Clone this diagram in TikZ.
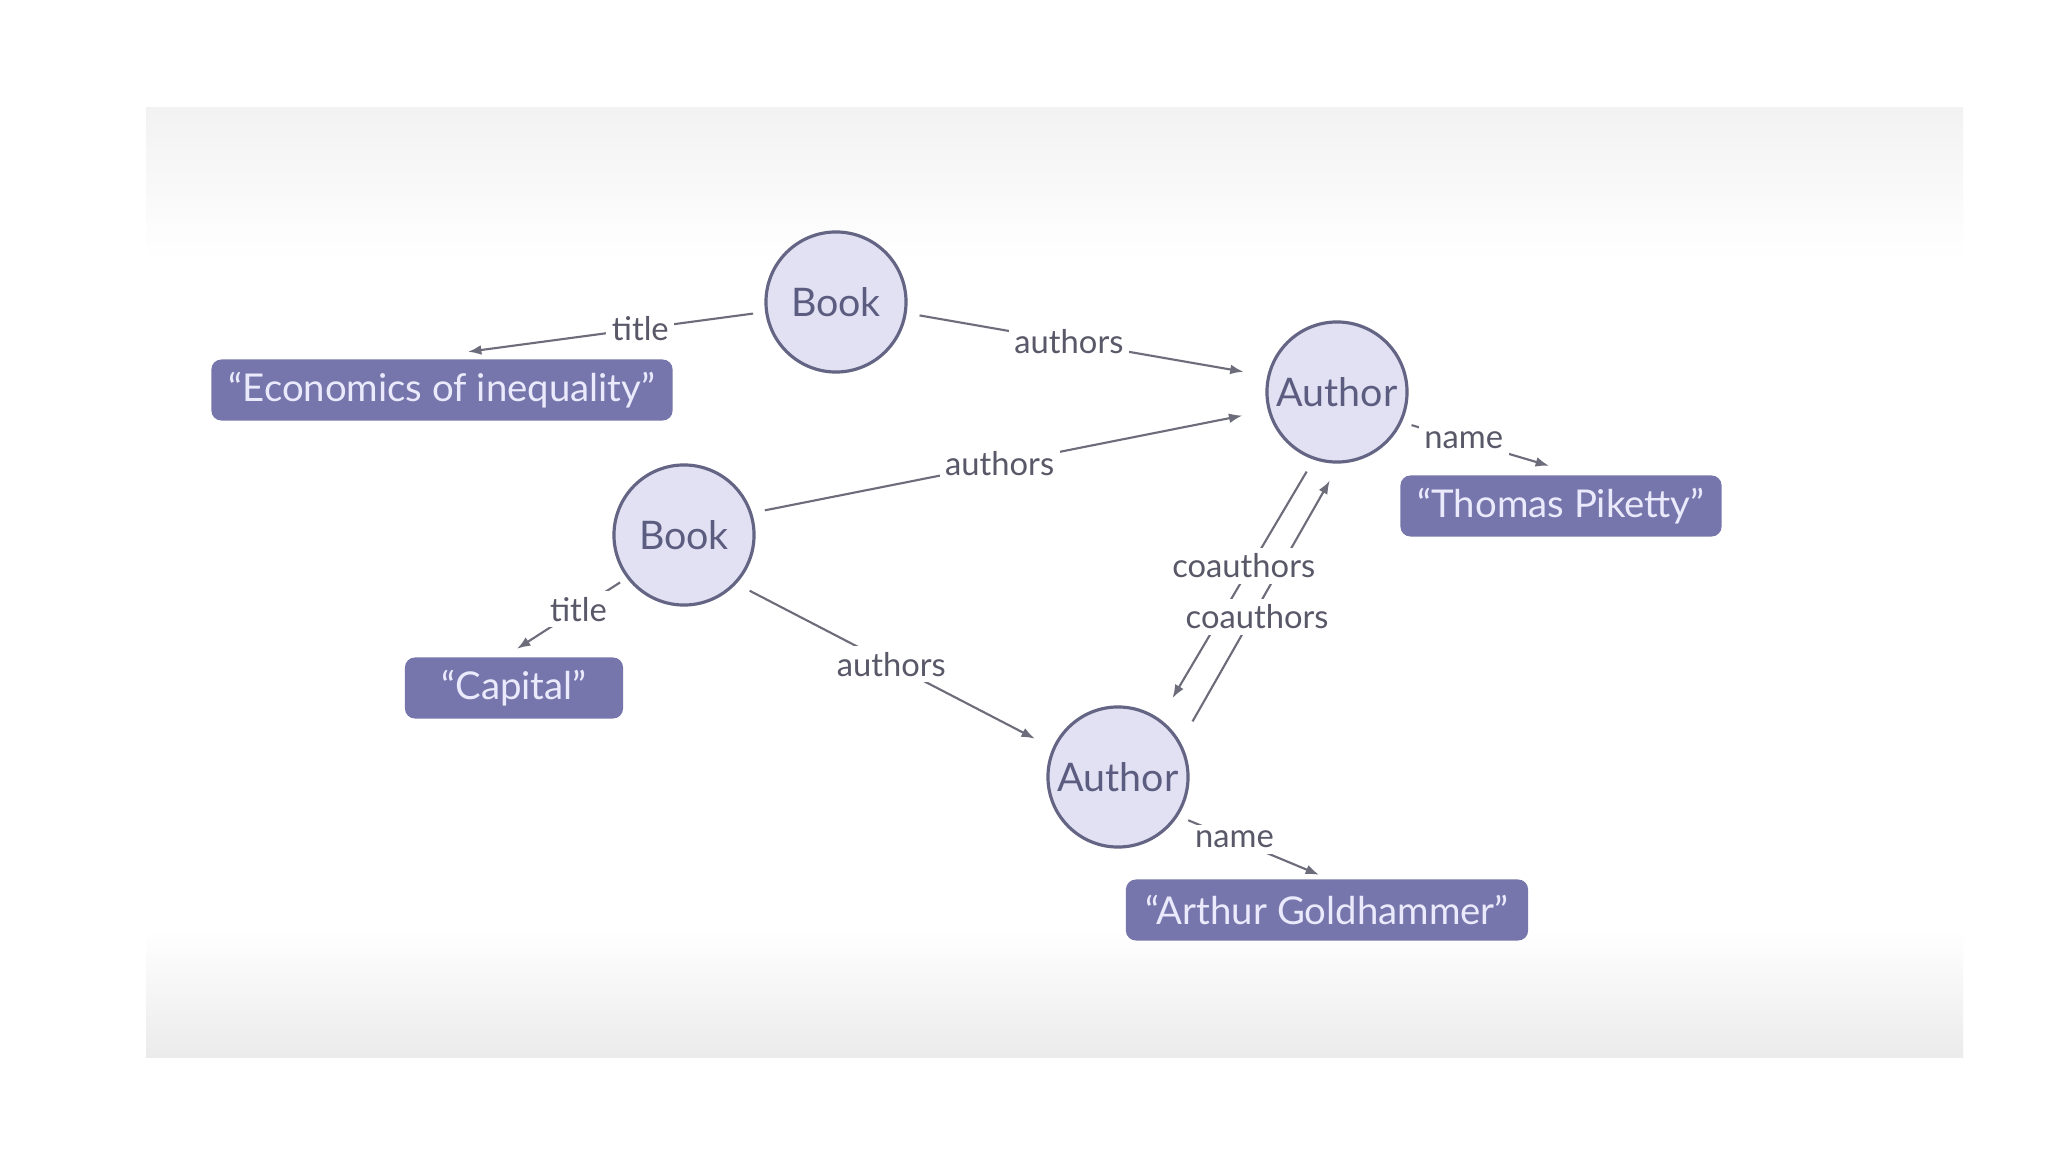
\documentclass[tikz,border=0pt]{standalone}
\usepackage{fontspec}
\setmainfont{Lato}
\usetikzlibrary{arrows.meta}
\definecolor{circfill}{RGB}{225,225,243}
\definecolor{circdraw}{RGB}{100,100,132}
\definecolor{circtext}{RGB}{92,92,128}
\definecolor{boxfill}{RGB}{118,118,172}
\definecolor{boxtext}{RGB}{234,234,252}
\definecolor{edgecol}{RGB}{108,108,122}
\definecolor{labcol}{RGB}{88,88,104}
\definecolor{paneltop}{RGB}{242,242,242}
\definecolor{panelbot}{RGB}{235,235,235}
\begin{document}
\begin{tikzpicture}[x=0.01cm,y=-0.01cm,
  entity/.style={circle,draw=circdraw,line width=0.9pt,fill=circfill,text=circtext,
    minimum size=1.4cm,inner sep=0pt,font=\fontsize{11.2}{13}\selectfont},
  valbox/.style={rounded corners=0.1cm,fill=boxfill,text=boxtext,minimum height=0.61cm,
    inner sep=0pt,font=\fontsize{10.9}{13}\selectfont},
  rel/.style={draw=edgecol,line width=0.6pt,-{Latex[length=3.8pt,width=2.8pt]}},
  lab/.style={fill=white,text=labcol,inner sep=1.6pt,font=\fontsize{9.3}{11}\selectfont}]
% canvas
\useasboundingbox (0,0) rectangle (2048,1152);
\fill[white] (0,0) rectangle (2048,1152);
\fill[white] (146,108) rectangle (1963,1057);
\shade[top color=paneltop,bottom color=white] (146,108) rectangle (1963,260);
\shade[top color=white,bottom color=panelbot] (146,930) rectangle (1963,1057);
% nodes
\node[entity] (b1) at (836,302) {Book};
\node[entity] (a1) at (1337,392) {Author};
\node[entity] (b2) at (684,535) {Book};
\node[entity] (a2) at (1118,777) {Author};
\node[valbox,minimum width=4.61cm] (econ) at (442,390) {“Economics of inequality”};
\node[valbox,minimum width=3.21cm] (pik) at (1561,506) {“Thomas Piketty”};
\node[valbox,minimum width=2.18cm] (cap) at (514,688) {“Capital”};
\node[valbox,minimum width=4.02cm] (gold) at (1327,910) {“Arthur Goldhammer”};
% connectors
\draw[rel,shorten <=0.12cm] (b1.188) -- node[lab,pos=0.42] {title} ([xshift=0.26cm,yshift=0.07cm]econ.north);
\draw[rel,shorten <=0.13cm,shorten >=0.24cm] (b1.-9) -- node[lab,pos=0.45] {authors} (a1.167);
\draw[rel,shorten <=0.13cm,shorten >=0.26cm] (b2.18) -- node[lab,pos=0.48] {authors} (a1.195.5);
\draw[rel,shorten <=0.08cm] (b2.217) -- node[lab,pos=0.44] {title} ([xshift=0.03cm,yshift=0.08cm]cap.north);
\draw[rel,shorten <=0.15cm,shorten >=0.2cm] (b2.-43) -- node[lab,pos=0.49] {authors} (a2.156);
\draw[rel,shorten <=0.1cm] (a1.-25) -- node[lab,pos=0.42] {name} ([xshift=-0.12cm,yshift=0.09cm]pik.north);
\draw[rel,shorten <=0.11cm] (a2.-33) -- node[lab,pos=0.4] {name} ([xshift=-0.08cm,yshift=0.04cm]gold.north);
\draw[rel,shorten <=0.138cm,shorten >=0.243cm] (a1.-109.2) -- (a2.54.6);
\draw[rel,shorten <=0.24cm,shorten >=0.196cm] (a2.29) -- (a1.-88);
% labels of the coauthors pair, over both lines
\path (a1.-109.2) -- node[lab,pos=0.41,xshift=-0.07cm] (co1) {coauthors} (a2.54.6);
\path (a2.29) -- node[lab,pos=0.45,xshift=0.05cm] (co2) {coauthors} (a1.-88);
\end{tikzpicture}
\end{document}
